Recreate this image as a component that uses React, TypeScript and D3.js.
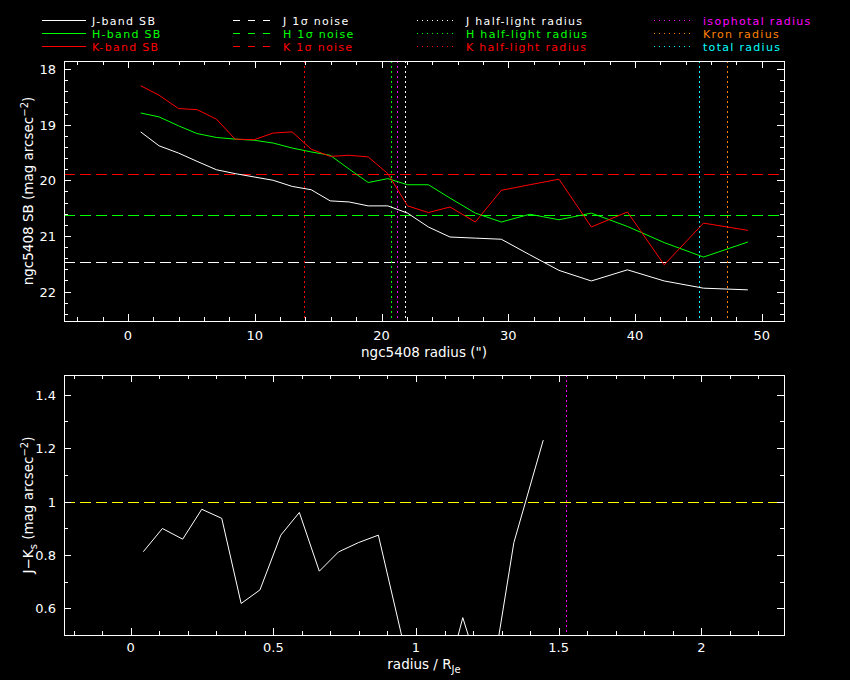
import React from 'react';
import * as d3 from 'd3';

const W = 850;
const H = 680;
const FONT = '"DejaVu Sans", sans-serif';

// surface brightness profiles (radius in arcsec, SB in mag arcsec^-2)
const radius = [1.0, 2.45, 3.98, 5.45, 6.97, 8.45, 9.95, 11.45, 12.95, 14.45, 15.95, 17.45, 18.95, 20.5, 22.05, 23.7, 25.4, 27.4, 29.45, 31.7, 34.0, 36.55, 39.4, 42.3, 45.4, 48.9];
const jSB = [19.13, 19.38, 19.51, 19.66, 19.81, 19.88, 19.94, 20.0, 20.11, 20.17, 20.37, 20.39, 20.46, 20.46, 20.59, 20.84, 21.02, 21.04, 21.06, 21.34, 21.62, 21.81, 21.61, 21.81, 21.94, 21.97];
const hSB = [18.79, 18.86, 19.02, 19.16, 19.23, 19.26, 19.28, 19.33, 19.42, 19.49, 19.55, 19.8, 20.04, 19.97, 20.08, 20.08, 20.32, 20.59, 20.75, 20.61, 20.71, 20.59, 20.83, 21.12, 21.38, 21.11];
const kSB = [18.3, 18.47, 18.71, 18.73, 18.9, 19.26, 19.27, 19.15, 19.13, 19.44, 19.57, 19.55, 19.58, 19.88, 20.46, 20.58, 20.48, 20.75, 20.18, 20.08, 19.98, 20.84, 20.57, 21.52, 20.77, 20.9];

// 1 sigma noise levels
const noiseBands = ['J', 'H', 'K'];
const noiseLevel = [21.47, 20.63, 19.88];

// characteristic radii (arcsec)
const radiusNames = ['J half-light', 'H half-light', 'K half-light', 'isophotal', 'Kron', 'total'];
const radiusValues = [21.85, 20.74, 13.91, 21.21, 47.24, 45.03];

// J-Ks colour profile
const radiusRatio = [0.044, 0.111, 0.182, 0.249, 0.319, 0.387, 0.453, 0.526, 0.591, 0.661, 0.728, 0.798, 0.868, 1.01, 1.085, 1.164, 1.254, 1.343, 1.446];
const colourJK = [0.812, 0.899, 0.859, 0.971, 0.937, 0.618, 0.669, 0.874, 0.959, 0.739, 0.811, 0.846, 0.874, 0.22, 0.244, 0.565, 0.257, 0.846, 1.23];
const colourRef = 1.0;
const isoRatio = 1.527;

const WHITE = '#ffffff';
const GREEN = '#00ff00';
const RED = '#ff0000';
const MAGENTA = '#ff00ff';
const ORANGE = '#ff8000';
const CYAN = '#00ffff';
const YELLOW = '#ffff00';

const bandColor = [WHITE, GREEN, RED];
const radiusColor = [WHITE, GREEN, RED, MAGENTA, ORANGE, CYAN];

const DASH = '11 5';
const DOT = '2 3';

const L = 64, R = 784;
const topX = d3.scaleLinear().domain([-5.05, 51.75]).range([L, R]);
const topY = d3.scaleLinear().domain([17.855, 22.53]).range([61, 321]);
const botX = d3.scaleLinear().domain([-0.234, 2.29]).range([L, R]);
const botY = d3.scaleLinear().domain([0.5, 1.474]).range([635, 375]);

type Scale = d3.ScaleLinear<number, number>;

function Frame({ x, y, xMajor, xMinor, yMajor, yMinor }: {
  x: Scale; y: Scale; xMajor: number[]; xMinor: number[]; yMajor: number[]; yMinor: number[];
}) {
  const [x0, x1] = x.range();
  const [y1, y0] = y.range().slice().sort((a, b) => b - a);
  const inX = (v: number) => x(v) > x0 + 1 && x(v) < x1 - 1;
  const inY = (v: number) => y(v) > y0 + 1 && y(v) < y1 - 1;
  const ticks: JSX.Element[] = [];
  const addX = (vals: number[], len: number, key: string) =>
    vals.filter(inX).forEach((v, i) => {
      const px = Math.round(x(v)) + 0.5;
      ticks.push(<line key={`${key}b${i}`} x1={px} x2={px} y1={y1} y2={y1 - len} />);
      ticks.push(<line key={`${key}t${i}`} x1={px} x2={px} y1={y0} y2={y0 + len} />);
    });
  const addY = (vals: number[], len: number, key: string) =>
    vals.filter(inY).forEach((v, i) => {
      const py = Math.round(y(v)) + 0.5;
      ticks.push(<line key={`${key}l${i}`} x1={x0} x2={x0 + len} y1={py} y2={py} />);
      ticks.push(<line key={`${key}r${i}`} x1={x1} x2={x1 - len} y1={py} y2={py} />);
    });
  addX(xMajor, 7, 'xM');
  addX(xMinor, 4, 'xm');
  addY(yMajor, 7, 'yM');
  addY(yMinor, 4, 'ym');
  return (
    <g stroke={WHITE} strokeWidth={1} shapeRendering="crispEdges" fill="none">
      <rect x={x0 + 0.5} y={y0 + 0.5} width={x1 - x0} height={y1 - y0} />
      {ticks}
    </g>
  );
}

function TickLabels({ x, y, xVals, yVals, xBase }: {
  x: Scale; y: Scale; xVals: number[]; yVals: number[]; xBase: number;
}) {
  return (
    <g fill={WHITE} fontFamily={FONT} fontSize={13}>
      {xVals.map(v => (
        <text key={`x${v}`} x={x(v)} y={xBase} textAnchor="middle">{String(v)}</text>
      ))}
      {yVals.map(v => (
        <text key={`y${v}`} x={56} y={y(v) + 5} textAnchor="end">{String(v)}</text>
      ))}
    </g>
  );
}

function Legend() {
  const rows = [20, 33, 46];
  const cols = [
    { x0: 42, x1: 86, tx: 92, dash: undefined as string | undefined, labels: ['J-band SB', 'H-band SB', 'K-band SB'], colors: bandColor },
    { x0: 233, x1: 277, tx: 283, dash: '7 8', labels: noiseBands.map(b => `${b} 1σ noise`), colors: bandColor },
    { x0: 417, x1: 457, tx: 466, dash: '1 4', labels: radiusNames.slice(0, 3).map(n => `${n} radius`), colors: radiusColor.slice(0, 3) },
    { x0: 654, x1: 694, tx: 703, dash: '1 4', labels: radiusNames.slice(3).map(n => `${n} radius`), colors: radiusColor.slice(3) },
  ];
  return (
    <g fontFamily={FONT} fontSize={11} letterSpacing={1.3}>
      {cols.map((c, ci) =>
        c.labels.map((lab, ri) => (
          <g key={`${ci}-${ri}`}>
            <line x1={c.x0} x2={c.x1} y1={rows[ri] + 0.5} y2={rows[ri] + 0.5} stroke={c.colors[ri]}
              strokeDasharray={c.dash} shapeRendering="crispEdges" />
            <text x={c.tx} y={rows[ri] + 4.5} fill={c.colors[ri]}>{lab}</text>
          </g>
        ))
      )}
    </g>
  );
}

export default function App() {
  const sbLine = (vals: number[]) =>
    d3.line<number>().x((_, i) => topX(radius[i])).y(d => topY(d))(vals) ?? '';
  const colourLine = d3.line<number>().x((_, i) => botX(radiusRatio[i])).y(d => botY(d))(colourJK) ?? '';
  const [tx0, tx1] = topX.range();
  const [ty1, ty0] = topY.range();
  const [by0, by1] = botY.range();

  return (
    <div style={{ position: 'fixed', left: 0, top: 0, width: W, height: H }}>
      <svg width={W} height={H} style={{ display: 'block' }}>
        <defs>
          <clipPath id="clipTop"><rect x={tx0} y={ty1} width={tx1 - tx0} height={ty0 - ty1} /></clipPath>
          <clipPath id="clipBot"><rect x={tx0} y={by1} width={tx1 - tx0} height={by0 - by1} /></clipPath>
        </defs>
        <rect width={W} height={H} fill="#000" />

        <Legend />

        {/* top panel: surface brightness */}
        <g clipPath="url(#clipTop)" fill="none" strokeWidth={1}>
          {noiseLevel.map((v, i) => (
            <line key={`n${i}`} x1={tx0} x2={tx1} y1={Math.round(topY(v)) + 0.5} y2={Math.round(topY(v)) + 0.5}
              stroke={bandColor[i]} strokeDasharray={DASH} shapeRendering="crispEdges" />
          ))}
          {radiusValues.map((v, i) => (
            <line key={`r${i}`} x1={Math.round(topX(v)) + 0.5} x2={Math.round(topX(v)) + 0.5} y1={ty1} y2={ty0}
              stroke={radiusColor[i]} strokeDasharray={DOT} shapeRendering="crispEdges" />
          ))}
          <path d={sbLine(jSB)} stroke={WHITE} />
          <path d={sbLine(hSB)} stroke={GREEN} />
          <path d={sbLine(kSB)} stroke={RED} />
        </g>
        <Frame x={topX} y={topY}
          xMajor={d3.range(0, 51, 10)} xMinor={d3.range(-4, 52, 2)}
          yMajor={d3.range(18, 23)} yMinor={d3.range(89, 113).map(i => i / 5)} />
        <TickLabels x={topX} y={topY} xVals={d3.range(0, 51, 10)} yVals={d3.range(18, 23)} xBase={340} />
        <text x={424} y={357} fill={WHITE} fontFamily={FONT} fontSize={13.5} textAnchor="middle">ngc5408 radius (")</text>
        <text transform={`translate(33,191) rotate(-90)`} fill={WHITE} fontFamily={FONT} fontSize={13.5} textAnchor="middle">
          ngc5408 SB (mag arcsec<tspan dy={-5} fontSize={10}>−2</tspan><tspan dy={5}>)</tspan>
        </text>

        {/* bottom panel: J-Ks colour */}
        <g clipPath="url(#clipBot)" fill="none" strokeWidth={1}>
          <line x1={tx0} x2={tx1} y1={Math.round(botY(colourRef)) + 0.5} y2={Math.round(botY(colourRef)) + 0.5}
            stroke={YELLOW} strokeDasharray={DASH} shapeRendering="crispEdges" />
          <line x1={Math.round(botX(isoRatio)) + 0.5} x2={Math.round(botX(isoRatio)) + 0.5} y1={by1} y2={by0}
            stroke={MAGENTA} strokeDasharray={DOT} shapeRendering="crispEdges" />
          <path d={colourLine} stroke={WHITE} />
        </g>
        <Frame x={botX} y={botY}
          xMajor={[0, 0.5, 1, 1.5, 2]} xMinor={d3.range(-2, 23).map(i => i / 10)}
          yMajor={[0.6, 0.8, 1, 1.2, 1.4]} yMinor={d3.range(5, 15).map(i => i / 10)} />
        <TickLabels x={botX} y={botY} xVals={[0, 0.5, 1, 1.5, 2]} yVals={[0.6, 0.8, 1, 1.2, 1.4]} xBase={652} />
        <text x={424} y={669} fill={WHITE} fontFamily={FONT} fontSize={13.5} textAnchor="middle">
          radius / R<tspan dy={4} fontSize={10}>Je</tspan>
        </text>
        <text transform={`translate(33,505) rotate(-90)`} fill={WHITE} fontFamily={FONT} fontSize={13.5} textAnchor="middle">
          J−K<tspan dy={4} fontSize={10}>s</tspan><tspan dy={-4}> (mag arcsec</tspan><tspan dy={-5} fontSize={10}>−2</tspan><tspan dy={5}>)</tspan>
        </text>
      </svg>
    </div>
  );
}
